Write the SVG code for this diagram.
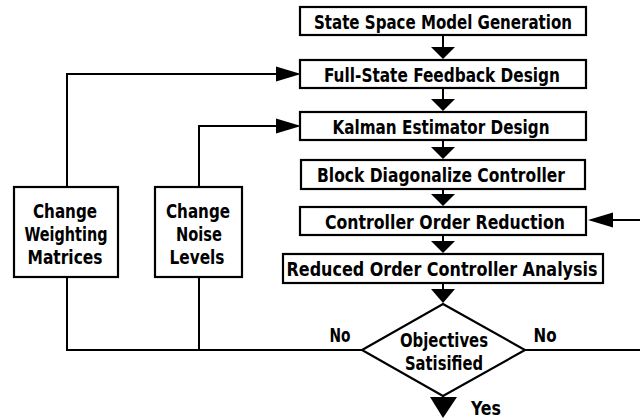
<svg xmlns="http://www.w3.org/2000/svg" width="640" height="420" viewBox="0 0 640 420">
<style>
.box{fill:#fff;stroke:#000;stroke-width:2.2}
.ln{fill:none;stroke:#000;stroke-width:2}
.hd{fill:#000;stroke:none}
text{font-family:"DejaVu Sans Condensed","Liberation Sans",sans-serif;font-weight:bold;font-size:20px;fill:#000;text-anchor:middle}
</style>
<rect width="640" height="420" fill="#fff"/>
<g id="connectors">
<path class="ln" d="M443 35V50M443 88V101M443 140V149M443 189V196M443 235V244M443 283V292M443 396V402"/>
<polygon class="hd" points="431,47 455,47 443,59"/>
<polygon class="hd" points="431,99 455,99 443,111"/>
<polygon class="hd" points="431,147 455,147 443,159"/>
<polygon class="hd" points="431,194 455,194 443,206"/>
<polygon class="hd" points="431,241 455,241 443,253"/>
<polygon class="hd" points="431,289 455,289 443,303"/>
<polygon class="hd" points="430,397 457,397 443,418"/>
<path class="ln" d="M362 350H67V277M67 187V74H280"/>
<path class="ln" d="M199 350V277M199 187V126H280"/>
<polygon class="hd" points="276,66.5 301,74 276,81.5"/>
<polygon class="hd" points="276,118.5 301,126 276,133.5"/>
<path class="ln" d="M525 350H642V220H608"/>
<polygon class="hd" points="613,212.5 588,220 613,227.5"/>
</g>
<g id="n1"><rect class="box" x="300" y="7" width="286" height="28"/><text x="443" y="28.5" textLength="258" lengthAdjust="spacingAndGlyphs">State Space Model Generation</text></g>
<g id="n2"><rect class="box" x="300" y="60" width="286" height="28"/><text x="442" y="81.5" textLength="236" lengthAdjust="spacingAndGlyphs">Full-State Feedback Design</text></g>
<g id="n3"><rect class="box" x="300" y="112" width="286" height="28"/><text x="441" y="133.5" textLength="217" lengthAdjust="spacingAndGlyphs">Kalman Estimator Design</text></g>
<g id="n4"><rect class="box" x="301" y="160" width="284" height="29"/><text x="441" y="182" textLength="248" lengthAdjust="spacingAndGlyphs">Block Diagonalize Controller</text></g>
<g id="n5"><rect class="box" x="300" y="207" width="286" height="28"/><text x="445" y="228.5" textLength="240" lengthAdjust="spacingAndGlyphs">Controller Order Reduction</text></g>
<g id="n6"><rect class="box" x="283" y="254" width="320" height="29"/><text x="442" y="276" textLength="311" lengthAdjust="spacingAndGlyphs">Reduced Order Controller Analysis</text></g>
<g id="n7"><polygon class="box" points="443,304 525,350 443,396 362,350"/><text x="444" y="346.5" textLength="88" lengthAdjust="spacingAndGlyphs">Objectives</text><text x="444" y="369.5" textLength="78" lengthAdjust="spacingAndGlyphs">Satisified</text></g>
<g id="n8"><rect class="box" x="14" y="187" width="104" height="90"/><text x="65" y="217.5" textLength="64" lengthAdjust="spacingAndGlyphs">Change</text><text x="66" y="240.5" textLength="83" lengthAdjust="spacingAndGlyphs">Weighting</text><text x="65" y="263.5" textLength="75" lengthAdjust="spacingAndGlyphs">Matrices</text></g>
<g id="n9"><rect class="box" x="155" y="187" width="87" height="90"/><text x="198" y="217.5" textLength="64" lengthAdjust="spacingAndGlyphs">Change</text><text x="199" y="240.5" textLength="46" lengthAdjust="spacingAndGlyphs">Noise</text><text x="197" y="263.5" textLength="55" lengthAdjust="spacingAndGlyphs">Levels</text></g>
<g id="labels"><text x="340" y="342" textLength="21" lengthAdjust="spacingAndGlyphs">No</text><text x="545" y="342" textLength="23" lengthAdjust="spacingAndGlyphs">No</text><text x="486" y="415" textLength="30" lengthAdjust="spacingAndGlyphs">Yes</text></g>
</svg>
